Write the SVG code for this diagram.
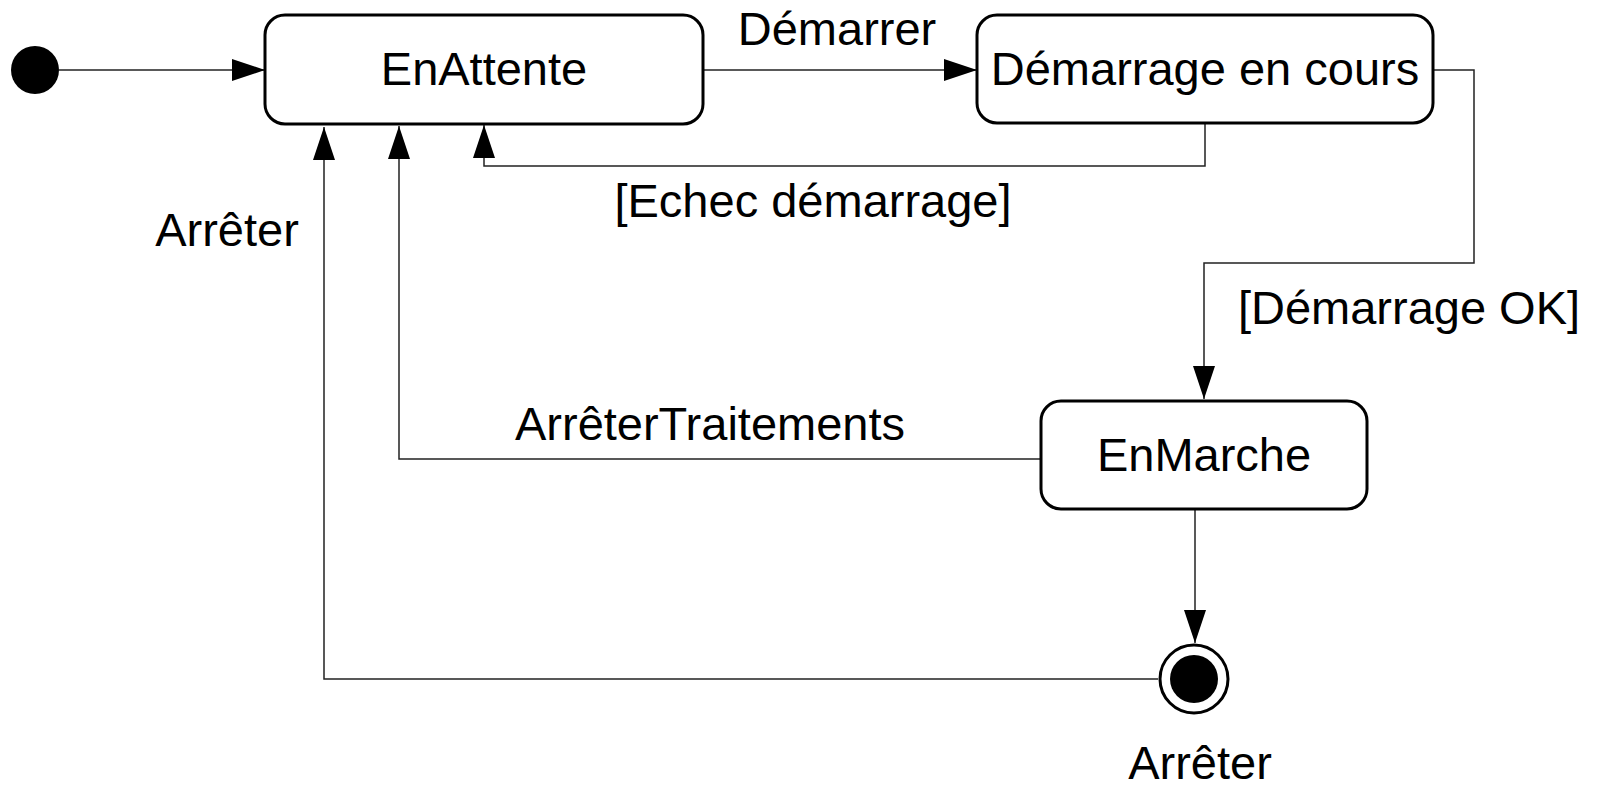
<svg xmlns="http://www.w3.org/2000/svg" width="1598" height="786" viewBox="0 0 1598 786">
<style>
.state{fill:#fff;stroke:#000;stroke-width:3}
.lbl{font-family:"Liberation Sans",Arial,sans-serif;font-size:47px;fill:#000}
.mid{text-anchor:middle}
.conn{fill:none;stroke:#222;stroke-width:1.5}
</style>
<defs>
<marker id="arr" markerUnits="userSpaceOnUse" markerWidth="34" markerHeight="22" refX="33" refY="11" orient="auto" viewBox="0 0 34 22">
<path d="M0,0 L33,11 L0,22 z" fill="#000"/>
</marker>
</defs>
<rect width="1598" height="786" fill="#fff"/>
<g id="connectors">
<path class="conn" d="M59,70 H265" marker-end="url(#arr)"/>
<path class="conn" d="M703,70 H977" marker-end="url(#arr)"/>
<path class="conn" d="M1205,123 V166 H484 V125" marker-end="url(#arr)"/>
<path class="conn" d="M1433,70 H1474 V263 H1204 V399" marker-end="url(#arr)"/>
<path class="conn" d="M1041,459 H399 V126" marker-end="url(#arr)"/>
<path class="conn" d="M1195,510 V643" marker-end="url(#arr)"/>
<path class="conn" d="M1158,679 H324 V127" marker-end="url(#arr)"/>
</g>
<g id="initial">
<circle cx="35" cy="70" r="24" fill="#000"/>
</g>
<g id="EnAttente">
<rect class="state" x="265" y="15" width="438" height="109" rx="20"/>
<text class="lbl mid" x="484" y="85">EnAttente</text>
</g>
<g id="DemarrageEnCours">
<rect class="state" x="977" y="15" width="456" height="108" rx="20"/>
<text class="lbl mid" x="1205" y="85">Démarrage en cours</text>
</g>
<g id="EnMarche">
<rect class="state" x="1041" y="401" width="326" height="108" rx="20"/>
<text class="lbl mid" x="1204" y="471">EnMarche</text>
</g>
<g id="final">
<circle cx="1194" cy="679" r="34" fill="#fff" stroke="#000" stroke-width="3"/>
<circle cx="1194" cy="679" r="24" fill="#000"/>
</g>
<g id="labels">
<text class="lbl mid" x="837" y="45">Démarrer</text>
<text class="lbl mid" x="813" y="217">[Echec démarrage]</text>
<text class="lbl mid" x="227" y="246">Arrêter</text>
<text class="lbl mid" x="1409" y="324">[Démarrage OK]</text>
<text class="lbl mid" x="710" y="440">ArrêterTraitements</text>
<text class="lbl mid" x="1200" y="779">Arrêter</text>
</g>
</svg>
